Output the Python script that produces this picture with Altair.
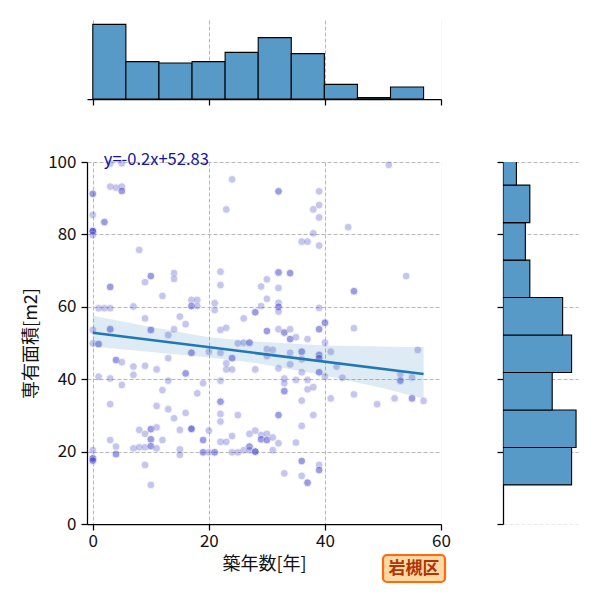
import altair as alt
import pandas as pd

FONT = "Noto Sans CJK JP"

# --- listings: building age [years] and floor area [m2] ---
age_years = (
    [0] * 16 + [1] * 4 + [2] * 3 + [3] * 10 + [4] * 6 + [5] * 6 + [7] * 4 + [8] * 3
    + [9] * 6 + [10] * 11 + [11] * 4 + [12] * 3 + [13] * 4 + [14] * 4 + [15] * 4
    + [16] * 4 + [17] * 8 + [18] * 3 + [19] * 5 + [20] * 3 + [21] * 4 + [22] * 10
    + [23] * 5 + [24] * 6 + [25] * 3 + [26] * 3 + [27] * 6 + [28] * 7 + [29] * 5
    + [30] * 9 + [31] * 3 + [32] * 14 + [33] * 7 + [34] * 7 + [35] * 3 + [36] * 10
    + [37] * 6 + [38] * 4 + [39] * 16 + [40] * 4 + [41] * 2 + [42] + [43] + [44]
    + [45] * 4 + [49] + [51] + [52] + [53] * 3 + [54] + [55] * 3 + [56] + [57]
)
floor_area = [
    91.2, 91.2, 85.4, 80.9, 80.9, 80.9, 80.9, 79.8, 53.6, 49.9, 20.4, 18.1, 18.1, 18.1, 17.5, 17.5,  # 0
    59.6, 49.7, 49.7, 40.7,  # 1
    83.4, 83.4, 59.6,  # 2
    99.6, 93.2, 65.5, 65.5, 59.6, 53.8, 53.8, 40.2, 33.1, 23.2,  # 3
    92.9, 45.3, 45.3, 21.4, 19.3, 19.3,  # 4
    99.6, 93.2, 92.0, 92.0, 44.7, 38.4,  # 5
    60.1, 43.5, 41.2, 20.9,  # 7
    75.7, 26.0, 21.2,  # 8
    66.8, 56.8, 43.7, 24.9, 21.2, 16.3,  # 9
    68.5, 68.5, 53.6, 53.6, 26.2, 26.2, 23.4, 23.4, 21.5, 21.5, 10.8,  # 10
    42.7, 32.6, 26.7, 20.9,  # 11
    63.0, 37.0, 23.2,  # 12
    52.2, 45.8, 39.6, 31.7,  # 13
    69.3, 67.7, 53.8, 29.2,  # 14
    57.3, 26.0, 20.6, 19.1,  # 15
    55.2, 41.6, 41.6, 30.7,  # 16
    61.9, 60.2, 60.2, 47.3, 47.3, 26.3, 26.3, 26.3,  # 17
    61.9, 60.2, 36.1,  # 18
    38.9, 23.2, 23.2, 19.8, 19.8,  # 19
    47.6, 25.8, 19.8,  # 20
    61.0, 59.1, 19.8, 19.8,  # 21
    69.7, 66.0, 53.6, 47.3, 39.6, 33.8, 33.8, 30.4, 28.3, 22.7,  # 22
    86.9, 54.2, 44.4, 42.7, 22.7,  # 23
    95.2, 45.8, 45.8, 42.7, 24.3, 19.8,  # 24
    49.9, 30.1, 19.8,  # 25
    56.8, 50.1, 20.4,  # 26
    50.1, 50.1, 24.9, 21.4, 21.4, 20.4,  # 27
    58.5, 58.5, 42.7, 25.8, 20.0, 20.0, 20.0,  # 28
    65.6, 60.2, 24.6, 23.4, 23.4,  # 29
    67.6, 62.2, 53.3, 53.3, 48.3, 46.4, 24.9, 23.2, 23.2,  # 30
    48.1, 23.9, 20.4,  # 31
    91.9, 91.9, 69.5, 69.5, 65.2, 61.1, 60.0, 60.0, 58.7, 53.8, 43.0, 30.1, 30.1, 22.3,  # 32
    52.9, 52.9, 40.2, 38.9, 36.7, 36.7, 14.0,  # 33
    69.3, 69.3, 53.8, 51.1, 51.1, 47.3, 44.1,  # 34
    51.6, 39.8, 22.5,  # 35
    78.0, 47.6, 47.6, 45.5, 41.9, 34.1, 27.1, 17.4, 17.4, 13.3,  # 36
    78.0, 51.1, 39.8, 37.2, 11.4, 11.4,  # 37
    86.9, 80.3, 37.8, 30.1,  # 38
    91.9, 88.1, 84.7, 76.9, 59.7, 53.8, 53.8, 46.7, 46.7, 45.8, 45.8, 41.9, 41.9, 16.3, 14.9, 14.9,  # 39
    55.6, 55.6, 50.1, 40.7,  # 40
    47.6, 34.7,  # 41
    43.5,  # 42
    40.4,  # 43
    82.0,  # 44
    64.3, 64.3, 54.1, 35.8,  # 45
    33.1,  # 49
    99.2,  # 51
    34.7,  # 52
    41.4, 39.6, 39.6,  # 53
    68.5,  # 54
    40.5, 34.7, 34.7,  # 55
    48.1,  # 56
    34.0,  # 57
]

# --- fitted line and its confidence band ---
slope = -0.2
intercept = 52.83
fit_x = [0, 57]
band_x = [0, 10, 20, 28, 40, 50, 57]
band_lower = [49.0, 47.5, 46.0, 44.5, 41.0, 37.5, 34.7]
band_upper = [57.5, 54.4, 51.6, 50.4, 49.3, 49.0, 48.8]

# --- marginal histograms (bin edges and counts) ---
age_bin_start = [0.0, 5.7, 11.4, 17.1, 22.8, 28.5, 34.2, 39.9, 45.6, 51.3]
age_bin_end = [5.7, 11.4, 17.1, 22.8, 28.5, 34.2, 39.9, 45.6, 51.3, 57.0]
age_counts = [56, 28, 27, 28, 35, 46, 34, 11, 1, 9]

area_bin_start = [10.8, 21.15, 31.5, 41.85, 52.2, 62.55, 72.9, 83.25, 93.6]
area_bin_end = [21.15, 31.5, 41.85, 52.2, 62.55, 72.9, 83.25, 93.6, 103.95]
area_counts = [46, 49, 33, 46, 40, 18, 15, 18, 9]

ward_label = "岩槻区"

# ---------------------------------------------------------------
MAIN_W, MAIN_H = 354, 362
TOP_H, SIDE_W = 79, 75

x_scale = alt.Scale(domain=[-1, 60], nice=False, zero=False)
y_scale = alt.Scale(domain=[0, 100], nice=False, zero=False)

grid_common = dict(
    grid=True,
    gridColor="#b0b0b0",
    gridDash=[4, 2],
    gridWidth=0.9,
    domainColor="black",
    domainWidth=1.25,
    tickColor="black",
    tickWidth=1.25,
    tickSize=6,
    labelFlush=False,
)

x_axis_main = alt.Axis(
    values=[0, 20, 40, 60],
    title="築年数[年]",
    labelFontSize=17,
    labelPadding=3,
    titleFontSize=18,
    titlePadding=6,
    gridOpacity={"condition": {"test": "datum.value >= 60", "value": 0.15}, "value": 1},
    **grid_common,
)
y_axis_main = alt.Axis(
    values=[0, 20, 40, 60, 80, 100],
    title="専有面積[m2]",
    labelFontSize=17,
    labelPadding=5,
    titleFontSize=18,
    titlePadding=7,
    gridOpacity={"condition": {"test": "datum.value <= 0", "value": 0}, "value": 1},
    **grid_common,
)

scatter_df = pd.DataFrame({"age": age_years, "area": floor_area})

points = alt.Chart(scatter_df).mark_circle(
    size=60, color="#3c3cc8", opacity=0.29, stroke="white", strokeWidth=0.8
).encode(
    x=alt.X("age:Q", scale=x_scale, axis=x_axis_main, title="築年数[年]"),
    y=alt.Y("area:Q", scale=y_scale, axis=y_axis_main, title="専有面積[m2]"),
)

band_df = pd.DataFrame({"age": band_x, "lo": band_lower, "hi": band_upper})
band = alt.Chart(band_df).mark_area(color="#1f77b4", opacity=0.15).encode(
    x=alt.X("age:Q", scale=x_scale, title="築年数[年]"),
    y=alt.Y("lo:Q", scale=y_scale, title="専有面積[m2]"),
    y2="hi:Q",
)

fit_df = pd.DataFrame({"age": fit_x, "area": [intercept + slope * v for v in fit_x]})
fit_line = alt.Chart(fit_df).mark_line(color="#1f77b4", strokeWidth=2.5).encode(
    x=alt.X("age:Q", scale=x_scale, title="築年数[年]"),
    y=alt.Y("area:Q", scale=y_scale, title="専有面積[m2]"),
)

eq_df = pd.DataFrame({"age": [1.9], "area": [99.2], "txt": [f"y={slope}x+{intercept}"]})
equation = alt.Chart(eq_df).mark_text(
    align="left", baseline="alphabetic", fontSize=16.5, color="#1414a0"
).encode(
    x=alt.X("age:Q", scale=x_scale, title="築年数[年]"),
    y=alt.Y("area:Q", scale=y_scale, title="専有面積[m2]"),
    text="txt:N",
)

label_df = pd.DataFrame({"ward": [ward_label]})
label_box = alt.Chart(label_df).mark_rect(
    fill="#ffd9a3", stroke="#ff6a10", strokeWidth=2.2, cornerRadius=4
).encode(
    x=alt.value(296), x2=alt.value(358), y=alt.value(393), y2=alt.value(420)
)
label_text = alt.Chart(label_df).mark_text(
    fontSize=17, fontWeight="bold", color="#b03406", align="center", baseline="middle"
).encode(x=alt.value(327), y=alt.value(407), text="ward:N")

main = alt.layer(points, band, fit_line, equation, label_box, label_text).properties(
    width=MAIN_W, height=MAIN_H
)

# top marginal: age histogram
top_df = pd.DataFrame({"start": age_bin_start, "end": age_bin_end, "count": age_counts})
top_hist = alt.Chart(top_df).mark_bar(
    color="#5799c7", stroke="black", strokeWidth=1.1
).encode(
    x=alt.X(
        "start:Q",
        scale=x_scale,
        axis=alt.Axis(
            values=[0, 20, 40, 60],
            labels=False,
            title=None,
            gridOpacity={"condition": {"test": "datum.value >= 60", "value": 0.15}, "value": 1},
            **grid_common,
        ),
    ),
    x2="end:Q",
    y=alt.Y("count:Q", scale=alt.Scale(domain=[0, 59.25], nice=False), axis=None),
    y2=alt.datum(0),
).properties(width=MAIN_W, height=TOP_H)

# right marginal: floor-area histogram
side_df = pd.DataFrame({"start": area_bin_start, "end": area_bin_end, "count": area_counts})
side_hist = alt.Chart(side_df).mark_bar(
    color="#5799c7", stroke="black", strokeWidth=1.1, clip=True
).encode(
    y=alt.Y(
        "start:Q",
        scale=y_scale,
        axis=alt.Axis(
            values=[0, 20, 40, 60, 80, 100],
            labels=False,
            title=None,
            gridOpacity={"condition": {"test": "datum.value <= 0", "value": 0.3}, "value": 1},
            **grid_common,
        ),
    ),
    y2="end:Q",
    x=alt.X("count:Q", scale=alt.Scale(domain=[0, 50.3], nice=False), axis=None),
    x2=alt.datum(0),
).properties(width=SIDE_W, height=MAIN_H)

bottom_row = alt.hconcat(main, side_hist, spacing=62, bounds="flush")

chart = (
    alt.vconcat(top_hist, bottom_row, spacing=63, bounds="flush")
    .properties(padding={"left": 22, "top": 20, "right": 5, "bottom": 5})
    .configure(font=FONT)
    .configure_view(strokeWidth=0)
    .configure_axis(labelColor="#111111", titleColor="#111111", titleFontWeight="normal")
)

chart.save("out.html", embed_options={"renderer": "svg", "actions": False})
